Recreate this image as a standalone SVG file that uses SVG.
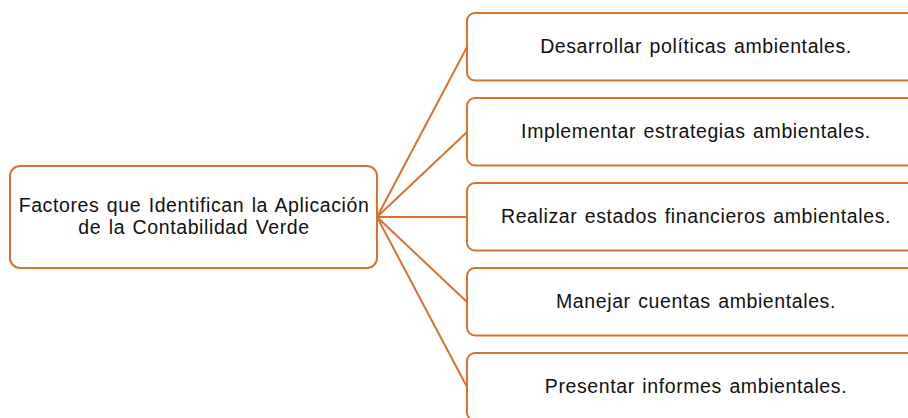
<svg xmlns="http://www.w3.org/2000/svg" width="908" height="418" viewBox="0 0 908 418">
<style>
.box{fill:#fff;stroke:#D9722F;stroke-width:2}
.ln{stroke:#D9722F;stroke-width:2;fill:none}
text{font-family:"Liberation Sans",Arial,sans-serif;font-size:19.5px;letter-spacing:0.6px;word-spacing:1.5px;fill:#111;text-anchor:middle}
</style>
<rect width="908" height="418" fill="#fff"/>
<g id="connectors">
<line class="ln" x1="377" y1="217" x2="467" y2="47"/>
<line class="ln" x1="377" y1="217" x2="467" y2="132"/>
<line class="ln" x1="377" y1="217" x2="467" y2="217"/>
<line class="ln" x1="377" y1="217" x2="467" y2="302"/>
<line class="ln" x1="377" y1="217" x2="467" y2="387"/>
</g>
<g id="root">
<rect class="box" x="10" y="166" width="367" height="102" rx="10"/>
<text x="194" y="212">Factores que Identifican la Aplicación</text>
<text x="194" y="234">de la Contabilidad Verde</text>
</g>
<g id="n1">
<rect class="box" x="467" y="13" width="460" height="67.5" rx="8"/>
<text x="696" y="53">Desarrollar políticas ambientales.</text>
</g>
<g id="n2">
<rect class="box" x="467" y="98" width="460" height="67.5" rx="8"/>
<text x="696" y="138">Implementar estrategias ambientales.</text>
</g>
<g id="n3">
<rect class="box" x="467" y="183" width="460" height="67.5" rx="8"/>
<text x="696" y="223">Realizar estados financieros ambientales.</text>
</g>
<g id="n4">
<rect class="box" x="467" y="268" width="460" height="67.5" rx="8"/>
<text x="696" y="308">Manejar cuentas ambientales.</text>
</g>
<g id="n5">
<rect class="box" x="467" y="353" width="460" height="67.5" rx="8"/>
<text x="696" y="393">Presentar informes ambientales.</text>
</g>
</svg>
